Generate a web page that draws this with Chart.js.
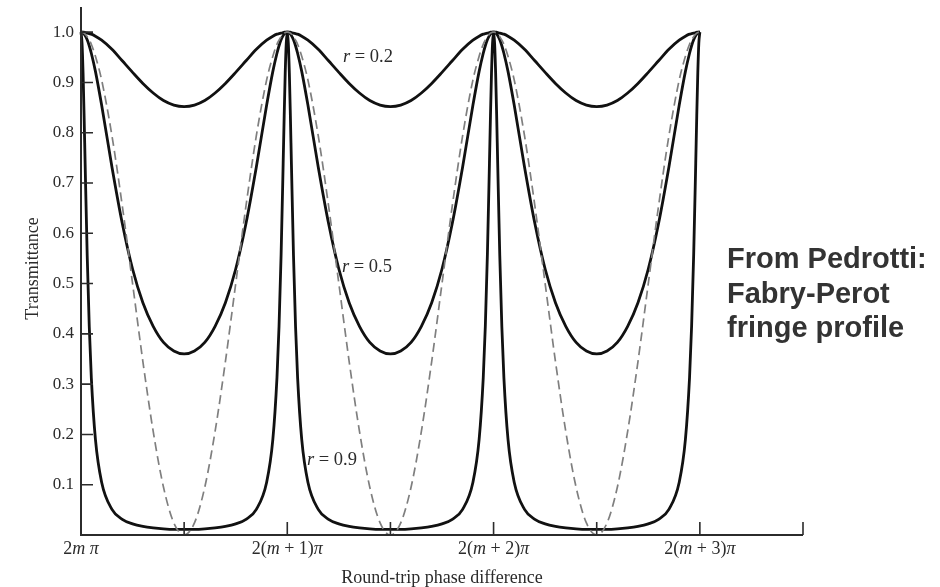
<!DOCTYPE html>
<html lang="en">
<head>
    <meta charset="UTF-8">
    <title>Fabry-Perot fringe profile</title>
    <script src="https://cdn.jsdelivr.net/npm/chart.js"></script>
    <style>
        body { margin: 0; background: #fff; }
        #wrap { width: 940px; height: 587px; }
    </style>
</head>
<body>
    <div id="wrap"><canvas id="fringeChart" width="940" height="587"></canvas></div>
    <script>
        // round-trip phase, in units of pi (0 = 2m pi, 2 = 2(m+1) pi, ...)
        const phase = [
            0, 0.01, 0.02, 0.03, 0.04, 0.06, 0.08, 0.1, 0.14, 0.2, 0.3, 0.4, 0.5, 0.6, 0.7, 0.8, 0.9,
            1, 1.1, 1.2, 1.3, 1.4, 1.5, 1.6, 1.7, 1.8, 1.86, 1.9, 1.92, 1.94, 1.96, 1.97, 1.98, 1.99,
            2, 2.01, 2.02, 2.03, 2.04, 2.06, 2.08, 2.1, 2.14, 2.2, 2.3, 2.4, 2.5, 2.6, 2.7, 2.8, 2.9,
            3, 3.1, 3.2, 3.3, 3.4, 3.5, 3.6, 3.7, 3.8, 3.86, 3.9, 3.92, 3.94, 3.96, 3.97, 3.98, 3.99,
            4, 4.01, 4.02, 4.03, 4.04, 4.06, 4.08, 4.1, 4.14, 4.2, 4.3, 4.4, 4.5, 4.6, 4.7, 4.8, 4.9,
            5, 5.1, 5.2, 5.3, 5.4, 5.5, 5.6, 5.7, 5.8, 5.86, 5.9, 5.92, 5.94, 5.96, 5.97, 5.98, 5.99,
            6
        ];

        // transmittance, r = 0.2
        const trans02 = [
            1.000, 1.000, 1.000, 1.000, 0.999, 0.998, 0.997, 0.996, 0.992, 0.984, 0.966, 0.943, 0.920, 0.898, 0.879, 0.864, 0.855,
            0.852, 0.855, 0.864, 0.879, 0.898, 0.920, 0.943, 0.966, 0.984, 0.992, 0.996, 0.997, 0.998, 0.999, 1.000, 1.000, 1.000,
            1.000, 1.000, 1.000, 1.000, 0.999, 0.998, 0.997, 0.996, 0.992, 0.984, 0.966, 0.943, 0.920, 0.898, 0.879, 0.864, 0.855,
            0.852, 0.855, 0.864, 0.879, 0.898, 0.920, 0.943, 0.966, 0.984, 0.992, 0.996, 0.997, 0.998, 0.999, 1.000, 1.000, 1.000,
            1.000, 1.000, 1.000, 1.000, 0.999, 0.998, 0.997, 0.996, 0.992, 0.984, 0.966, 0.943, 0.920, 0.898, 0.879, 0.864, 0.855,
            0.852, 0.855, 0.864, 0.879, 0.898, 0.920, 0.943, 0.966, 0.984, 0.992, 0.996, 0.997, 0.998, 0.999, 1.000, 1.000, 1.000,
            1.000
        ];

        // transmittance, r = 0.5
        const trans05 = [
            1.000, 1.000, 0.998, 0.996, 0.993, 0.985, 0.973, 0.958, 0.922, 0.855, 0.732, 0.620, 0.529, 0.462, 0.415, 0.383, 0.366,
            0.360, 0.366, 0.383, 0.415, 0.462, 0.529, 0.620, 0.732, 0.855, 0.922, 0.958, 0.973, 0.985, 0.993, 0.996, 0.998, 1.000,
            1.000, 1.000, 0.998, 0.996, 0.993, 0.985, 0.973, 0.958, 0.922, 0.855, 0.732, 0.620, 0.529, 0.462, 0.415, 0.383, 0.366,
            0.360, 0.366, 0.383, 0.415, 0.462, 0.529, 0.620, 0.732, 0.855, 0.922, 0.958, 0.973, 0.985, 0.993, 0.996, 0.998, 1.000,
            1.000, 1.000, 0.998, 0.996, 0.993, 0.985, 0.973, 0.958, 0.922, 0.855, 0.732, 0.620, 0.529, 0.462, 0.415, 0.383, 0.366,
            0.360, 0.366, 0.383, 0.415, 0.462, 0.529, 0.620, 0.732, 0.855, 0.922, 0.958, 0.973, 0.985, 0.993, 0.996, 0.998, 1.000,
            1.000
        ];

        // transmittance, r = 0.9
        const trans09 = [
            1.000, 0.978, 0.919, 0.834, 0.739, 0.557, 0.415, 0.313, 0.190, 0.105, 0.051, 0.031, 0.022, 0.017, 0.014, 0.012, 0.011,
            0.011, 0.011, 0.012, 0.014, 0.017, 0.022, 0.031, 0.051, 0.105, 0.190, 0.313, 0.415, 0.557, 0.739, 0.834, 0.919, 0.978,
            1.000, 0.978, 0.919, 0.834, 0.739, 0.557, 0.415, 0.313, 0.190, 0.105, 0.051, 0.031, 0.022, 0.017, 0.014, 0.012, 0.011,
            0.011, 0.011, 0.012, 0.014, 0.017, 0.022, 0.031, 0.051, 0.105, 0.190, 0.313, 0.415, 0.557, 0.739, 0.834, 0.919, 0.978,
            1.000, 0.978, 0.919, 0.834, 0.739, 0.557, 0.415, 0.313, 0.190, 0.105, 0.051, 0.031, 0.022, 0.017, 0.014, 0.012, 0.011,
            0.011, 0.011, 0.012, 0.014, 0.017, 0.022, 0.031, 0.051, 0.105, 0.190, 0.313, 0.415, 0.557, 0.739, 0.834, 0.919, 0.978,
            1.000
        ];

        // dashed two-beam profile
        const twoBeam = [
            1.000, 1.000, 0.999, 0.998, 0.996, 0.991, 0.984, 0.976, 0.952, 0.905, 0.794, 0.655, 0.500, 0.345, 0.206, 0.095, 0.024,
            0.000, 0.024, 0.095, 0.206, 0.345, 0.500, 0.655, 0.794, 0.905, 0.952, 0.976, 0.984, 0.991, 0.996, 0.998, 0.999, 1.000,
            1.000, 1.000, 0.999, 0.998, 0.996, 0.991, 0.984, 0.976, 0.952, 0.905, 0.794, 0.655, 0.500, 0.345, 0.206, 0.095, 0.024,
            0.000, 0.024, 0.095, 0.206, 0.345, 0.500, 0.655, 0.794, 0.905, 0.952, 0.976, 0.984, 0.991, 0.996, 0.998, 0.999, 1.000,
            1.000, 1.000, 0.999, 0.998, 0.996, 0.991, 0.984, 0.976, 0.952, 0.905, 0.794, 0.655, 0.500, 0.345, 0.206, 0.095, 0.024,
            0.000, 0.024, 0.095, 0.206, 0.345, 0.500, 0.655, 0.794, 0.905, 0.952, 0.976, 0.984, 0.991, 0.996, 0.998, 0.999, 1.000,
            1.000
        ];

        const yTicks = [0.1, 0.2, 0.3, 0.4, 0.5, 0.6, 0.7, 0.8, 0.9, 1.0];
        const xTickPos = [1, 2, 3, 4, 5, 6, 7];
        const xLabelPos = [0, 2, 4, 6];
        const xLabels = ['2m π', '2(m + 1)π', '2(m + 2)π', '2(m + 3)π'];

        // curve labels: [text, phase, transmittance]
        const curveLabels = [
            ['r = 0.2', 2.54, 0.94],
            ['r = 0.5', 2.53, 0.523],
            ['r = 0.9', 2.19, 0.139]
        ];

        const noteLines = ['From Pedrotti:', 'Fabry-Perot', 'fringe profile'];

        const INK = '#2b2b2b';
        const SERIF = '"Liberation Serif", "DejaVu Serif", serif';

        function toPoints(ys) {
            return phase.map((p, i) => ({ x: p, y: ys[i] }));
        }

        // draws text centred/left/right at x, with m, r and π in italics
        function drawMixed(ctx, text, x, y, size, align) {
            const parts = text.split(/([mrπ])/).filter(s => s.length);
            const fontFor = s => (/^[mrπ]$/.test(s) ? 'italic ' : '') + size + 'px ' + SERIF;
            let total = 0;
            parts.forEach(s => { ctx.font = fontFor(s); total += ctx.measureText(s).width; });
            let cx = align === 'center' ? x - total / 2 : (align === 'right' ? x - total : x);
            ctx.textAlign = 'left';
            parts.forEach(s => {
                ctx.font = fontFor(s);
                ctx.fillText(s, cx, y);
                cx += ctx.measureText(s).width;
            });
        }

        const axesPlugin = {
            id: 'bookAxes',
            afterDatasetsDraw(chart) {
                const ctx = chart.ctx;
                const xs = chart.scales.x;
                const ys = chart.scales.y;
                const x0 = xs.getPixelForValue(0);
                const y0 = ys.getPixelForValue(0);
                ctx.save();
                ctx.strokeStyle = INK;
                ctx.fillStyle = INK;
                ctx.lineWidth = 2;

                // axis lines
                ctx.beginPath();
                ctx.moveTo(x0, ys.top);
                ctx.lineTo(x0, y0);
                ctx.lineTo(xs.getPixelForValue(7), y0);
                ctx.stroke();

                // inner tick marks
                ctx.lineWidth = 1.6;
                ctx.beginPath();
                yTicks.forEach(v => {
                    const py = ys.getPixelForValue(v);
                    ctx.moveTo(x0, py);
                    ctx.lineTo(x0 + 12, py);
                });
                xTickPos.forEach(v => {
                    const px = xs.getPixelForValue(v);
                    ctx.moveTo(px, y0);
                    ctx.lineTo(px, y0 - 13);
                });
                ctx.stroke();

                // y tick labels
                ctx.textBaseline = 'middle';
                ctx.textAlign = 'right';
                ctx.font = '17px ' + SERIF;
                yTicks.forEach(v => {
                    ctx.fillText(v.toFixed(1), x0 - 7, ys.getPixelForValue(v));
                });

                // x tick labels
                ctx.textBaseline = 'alphabetic';
                xLabelPos.forEach((v, i) => {
                    drawMixed(ctx, xLabels[i], xs.getPixelForValue(v), y0 + 19, 18, 'center');
                });

                // axis titles
                ctx.textAlign = 'center';
                ctx.font = '18px ' + SERIF;
                ctx.fillText('Round-trip phase difference', (x0 + xs.getPixelForValue(7)) / 2, y0 + 48);
                ctx.save();
                ctx.translate(38, ys.getPixelForValue(0.53));
                ctx.rotate(-Math.PI / 2);
                ctx.fillText('Transmittance', 0, 0);
                ctx.restore();

                // curve labels
                curveLabels.forEach(([t, px, py]) => {
                    drawMixed(ctx, t, xs.getPixelForValue(px), ys.getPixelForValue(py), 18.5, 'left');
                });

                // side note
                ctx.textAlign = 'left';
                ctx.font = 'bold 29px "Liberation Sans", Arial, sans-serif';
                ctx.fillStyle = '#333';
                noteLines.forEach((line, i) => {
                    ctx.fillText(line, 727, 268 + i * 34.5);
                });
                ctx.restore();
            }
        };

        const curveStyle = {
            borderColor: '#111',
            borderWidth: 2.8,
            pointRadius: 0,
            fill: false,
            cubicInterpolationMode: 'monotone',
            clip: false
        };

        new Chart(document.getElementById('fringeChart'), {
            type: 'line',
            data: {
                datasets: [
                    {
                        label: 'two-beam',
                        data: toPoints(twoBeam),
                        borderColor: '#7f7f7f',
                        borderWidth: 1.7,
                        borderDash: [9, 5],
                        pointRadius: 0,
                        fill: false,
                        cubicInterpolationMode: 'monotone',
                        clip: false
                    },
                    Object.assign({ label: 'r = 0.2', data: toPoints(trans02) }, curveStyle),
                    Object.assign({ label: 'r = 0.5', data: toPoints(trans05) }, curveStyle),
                    Object.assign({ label: 'r = 0.9', data: toPoints(trans09) }, curveStyle)
                ]
            },
            options: {
                responsive: false,
                animation: false,
                layout: { padding: { left: 81, right: 137, top: 7, bottom: 52 } },
                scales: {
                    x: { type: 'linear', min: 0, max: 7, display: false },
                    y: { min: 0, max: 1.05, display: false }
                },
                plugins: {
                    legend: { display: false },
                    tooltip: { enabled: false }
                }
            },
            plugins: [axesPlugin]
        });
    </script>
</body>
</html>
